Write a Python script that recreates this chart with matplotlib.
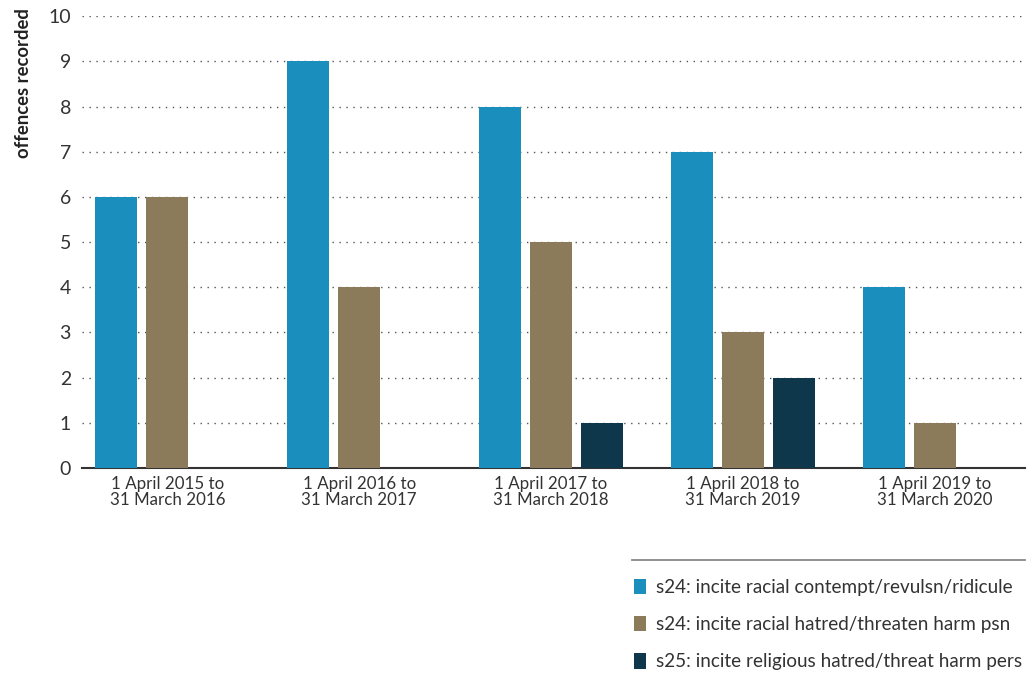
import numpy as np
import matplotlib.pyplot as plt
from matplotlib.lines import Line2D

plt.rcParams['font.family'] = ['Lato', 'DejaVu Sans']

# Data
periods = ["1 April 2015 to\n31 March 2016", "1 April 2016 to\n31 March 2017",
           "1 April 2017 to\n31 March 2018", "1 April 2018 to\n31 March 2019",
           "1 April 2019 to\n31 March 2020"]
racial_contempt = [6, 9, 8, 7, 4]
racial_hatred = [6, 4, 5, 3, 1]
religious_hatred = [0, 0, 1, 2, 0]

labels = ["s24: incite racial contempt/revulsn/ridicule",
          "s24: incite racial hatred/threaten harm psn",
          "s25: incite religious hatred/threat harm pers"]
colors = ["#1a8fbd", "#8c7b5b", "#0e374b"]

fig = plt.figure(figsize=(10.29, 6.75), dpi=100)
ax = fig.add_axes([0.0797, 0.3067, 0.9163, 0.6693])

x = np.arange(len(periods))
w = 0.22
off = 0.266
series = [racial_contempt, racial_hatred, religious_hatred]
handles = []
for i, (vals, c, lab) in enumerate(zip(series, colors, labels)):
    b = ax.bar(x + (i - 1) * off, vals, width=w, color=c, label=lab, zorder=3)
    handles.append(b)

ax.set_xlim(-0.445, 4.47)
ax.set_ylim(0, 10)
ax.set_yticks(range(0, 11))
ax.yaxis.grid(True, linestyle=(0, (1, 4)), color="#555555", linewidth=1.0)
ax.set_axisbelow(True)
for s in ["top", "right", "left"]:
    ax.spines[s].set_visible(False)
ax.spines["bottom"].set_color("#333333")
ax.spines["bottom"].set_linewidth(1.5)
ax.tick_params(axis="both", length=0, colors="#333333")
ax.tick_params(axis="y", labelsize=14, pad=8)
ax.tick_params(axis="x", pad=6)
ax.set_xticks(x)
ax.set_xticklabels(periods, fontsize=12.2, linespacing=1.0)
ax.set_ylabel("offences recorded", fontsize=13.3, fontweight="bold", color="#222222")
ax.yaxis.set_label_coords(-0.071, 1.018, transform=ax.transAxes)
ax.yaxis.label.set_verticalalignment("top")
ax.yaxis.label.set_horizontalalignment("right")

fig.add_artist(Line2D([632 / 1029, 1025 / 1029], [1 - 560 / 675, 1 - 560 / 675],
                      color="#888888", linewidth=1.3))
leg = fig.legend(handles=handles, loc="upper left", bbox_to_anchor=(0.609, 0.154),
                 frameon=False, fontsize=13.6, handlelength=0.65, handleheight=0.9,
                 handletextpad=0.5, labelspacing=1.05, borderaxespad=0)
for t in leg.get_texts():
    t.set_color("#333333")

fig.savefig("out.png", dpi=100)
